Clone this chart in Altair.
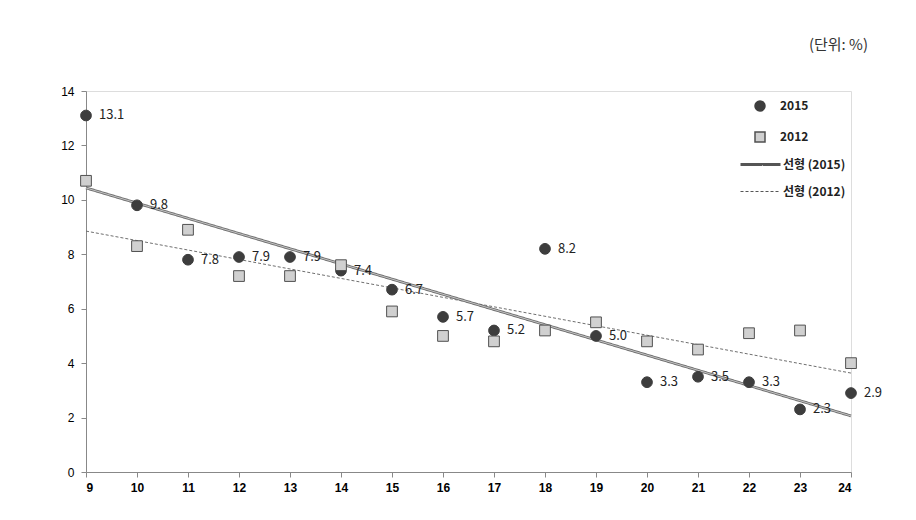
import altair as alt
import pandas as pd

ages = list(range(9, 25))
rate_2015 = [13.1, 9.8, 7.8, 7.9, 7.9, 7.4, 6.7, 5.7, 5.2, 8.2, 5.0, 3.3, 3.5, 3.3, 2.3, 2.9]
rate_2012 = [10.7, 8.3, 8.9, 7.2, 7.2, 7.6, 5.9, 5.0, 4.8, 5.2, 5.5, 4.8, 4.5, 5.1, 5.2, 4.0]
series_names = ["2015", "2012"]
trend_names = ["선형 (2015)", "선형 (2012)"]
y_ticks = [0, 2, 4, 6, 8, 10, 12, 14]
unit_label = "(단위:  %)"

rows = []
for s, vals in zip(series_names, [rate_2015, rate_2012]):
    for a, v in zip(ages, vals):
        rows.append({"age": a, "rate": v, "series": s, "label": f"{v:.1f}"})
df = pd.DataFrame(rows)

FONT = "Noto Sans CJK KR"

x = alt.X("age:Q", scale=alt.Scale(domain=[9, 24], nice=False, zero=False),
          axis=alt.Axis(values=ages, title=None, grid=False, labelFontWeight="bold",
                        labelFontSize=12, tickSize=5, labelPadding=5, format="d"))
y = alt.Y("rate:Q", scale=alt.Scale(domain=[0, 14], nice=False),
          axis=alt.Axis(values=y_ticks, title=None, grid=False, labelFontSize=12,
                        tickSize=5, labelPadding=7))

base = alt.Chart(df)

trend = base.transform_regression("age", "rate", groupby=["series"]).transform_calculate(
    trend='"선형 (" + datum.series + ")"'
).mark_line(color="#6f6f6f").encode(
    x=x, y=y,
    strokeDash=alt.StrokeDash("trend:N", scale=alt.Scale(domain=trend_names, range=[[1, 0], [3, 2]]),
                              legend=alt.Legend(title=None, orient="none", legendX=653, legendY=52,
                                                symbolType="stroke", symbolSize=1600,
                                                symbolStrokeWidth=1.3, symbolStrokeColor="#555",
                                                labelFont=FONT, labelFontWeight="bold",
                                                labelFontSize=12, labelColor="#222",
                                                labelOffset=1, rowPadding=-10, padding=0)),
    strokeWidth=alt.StrokeWidth("trend:N", scale=alt.Scale(domain=trend_names, range=[2.8, 1]),
                                legend=None),
)

trend_inner = base.transform_filter(alt.datum.series == "2015").transform_regression(
    "age", "rate"
).mark_line(color="#d9d9d9", strokeWidth=0.8).encode(x=x, y=y)

pt_legend = alt.Legend(title=None, orient="none", legendX=668, legendY=9,
                       labelFont=FONT, labelFontWeight="bold", labelFontSize=12,
                       labelColor="#222", labelOffset=14, rowPadding=15, padding=0,
                       symbolSize=100)

points = base.mark_point(filled=True, opacity=1, strokeWidth=1, size=115).encode(
    x=x, y=y,
    shape=alt.Shape("series:N", scale=alt.Scale(domain=series_names, range=["circle", "square"]),
                    legend=pt_legend),
    fill=alt.Fill("series:N", scale=alt.Scale(domain=series_names, range=["#3d3d3d", "#d0d0d0"]),
                  legend=pt_legend),
    stroke=alt.Stroke("series:N", scale=alt.Scale(domain=series_names, range=["#3d3d3d", "#505050"]),
                      legend=pt_legend),
)

labels = base.transform_filter(alt.datum.series == "2015").mark_text(
    align="left", baseline="middle", dx=13, fontSize=13, font=FONT, color="#222"
).encode(x=x, y=y, text="label:N")

chart = alt.layer(trend, trend_inner, points, labels).properties(
    width=765, height=381,
    padding={"left": 78, "top": 83, "right": 57, "bottom": 40},
    autosize=alt.AutoSizeParams(type="none"),
    title=alt.TitleParams(unit_label, anchor="end", frame="group", fontSize=15, fontWeight="normal",
                          font=FONT, color="#333", dx=17, offset=32),
).configure_view(stroke=None).configure_axis(
    domainColor="#8c8c8c", tickColor="#8c8c8c", labelColor="#222", labelFont="Noto Sans"
).configure(background="white")

chart.save("out.html", embed_options={"renderer": "svg", "actions": False})
